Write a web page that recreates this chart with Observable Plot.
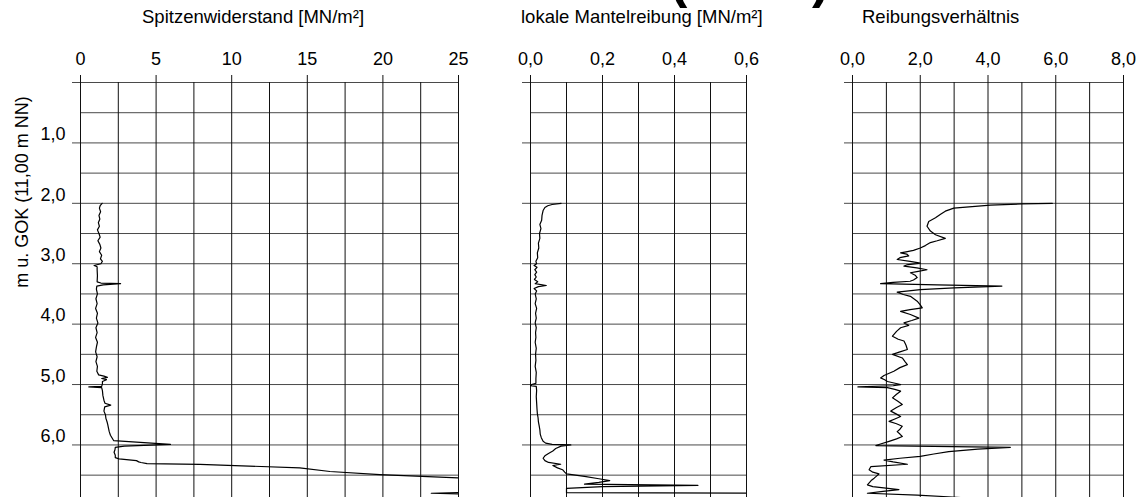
<!DOCTYPE html>
<html><head><meta charset="utf-8">
<script src="https://cdn.jsdelivr.net/npm/d3@7"></script>
<script src="https://cdn.jsdelivr.net/npm/@observablehq/plot@0.6"></script>
<style>
html,body{margin:0;padding:0;background:#fff;overflow:hidden}
#wrap{position:relative;width:1142px;height:497px;overflow:hidden;font-family:"Liberation Sans",Arial,sans-serif;color:#000}
.t{position:absolute;white-space:nowrap;line-height:1;font-size:18.5px}
.b{position:absolute;white-space:nowrap;line-height:1;font-size:52px;font-weight:bold}
.p{position:absolute;top:0}
</style></head><body>
<div id="wrap">
  <div class="b" style="left:670px;top:-47px">(</div>
  <div class="b" style="left:812px;top:-47px">)</div>
  <div class="t" style="left:142px;top:8.3px">Spitzenwiderstand [MN/m²]</div>
  <div class="t" style="left:521px;top:8.3px">lokale Mantelreibung [MN/m²]</div>
  <div class="t" style="left:862px;top:8.3px">Reibungsverhältnis</div>
  <div class="t" style="left:21.5px;top:191.5px;font-size:18px;transform:translate(-50%,-50%) rotate(-90deg)">m u. GOK (11,00 m NN)</div>
  <div class="p" id="p1" style="left:0px"></div>
  <div class="p" id="p2" style="left:490px"></div>
  <div class="p" id="p3" style="left:790px"></div>
</div>
<script>
// ---- shared depth axis ----
const depthMajor = [0, 1, 2, 3, 4, 5, 6];
const depthMinor = [0.5, 1.5, 2.5, 3.5, 4.5, 5.5, 6.5];
const depthTickValues = [1, 2, 3, 4, 5, 6];
const depthTickLabels = ["1,0", "2,0", "3,0", "4,0", "5,0", "6,0"];

// ---- panel 1: Spitzenwiderstand ----
const qcTicks = [0, 5, 10, 15, 20, 25];
const qcTickLabels = ["0", "5", "10", "15", "20", "25"];
const qcMinor = [2.5, 7.5, 12.5, 17.5, 22.5];
const qcDepth = [2.00,2.04,2.08,2.14,2.20,2.26,2.32,2.38,2.44,2.50,2.56,2.62,2.68,2.74,2.80,2.86,2.92,2.96,3.00,3.03,3.05,3.10,3.20,3.30,3.32,3.33,3.35,3.37,3.42,3.50,3.58,3.66,3.74,3.82,3.90,3.98,4.06,4.14,4.22,4.30,4.38,4.46,4.54,4.62,4.70,4.78,4.84,4.86,4.88,4.90,4.92,4.95,4.99,5.03,5.04,5.05,5.10,5.18,5.26,5.31,5.34,5.37,5.44,5.50,5.56,5.62,5.66,5.72,5.78,5.84,5.89,5.93,5.99,6.02,6.04,6.08,6.12,6.17,6.21,6.23,6.26,6.28,6.29,6.31,6.32,6.38,6.44,6.49,6.55,6.65,6.78,6.80,6.82,6.87];
const qcValue = [1.43,1.30,1.25,1.33,1.22,1.28,1.18,1.25,1.12,1.22,1.30,1.15,1.28,1.35,1.25,1.40,1.32,1.45,1.35,0.90,1.10,1.10,1.12,1.10,1.35,2.65,1.50,1.08,1.05,1.12,1.02,1.10,1.00,1.12,1.05,1.15,1.02,1.10,1.00,1.12,1.05,1.00,1.10,1.02,1.12,1.08,1.20,1.55,1.78,1.40,1.72,1.45,1.45,1.40,0.55,1.40,1.45,1.48,1.55,1.62,2.00,1.60,1.55,1.65,1.68,1.76,1.80,1.85,1.90,1.98,2.10,2.20,5.95,2.90,2.30,2.28,2.22,2.30,2.30,2.55,3.70,3.85,4.00,4.40,7.90,14.5,16.5,19.8,25.3,27.0,26.0,23.2,27.0,28.0];

// ---- panel 2: lokale Mantelreibung ----
const fsTicks = [0, 0.2, 0.4, 0.6];
const fsTickLabels = ["0,0", "0,2", "0,4", "0,6"];
const fsMinor = [0.1, 0.3, 0.5];
const fsDepth = [2.00,2.02,2.04,2.07,2.12,2.20,2.28,2.35,2.42,2.50,2.58,2.66,2.74,2.82,2.90,2.96,3.00,3.03,3.06,3.10,3.14,3.18,3.22,3.26,3.30,3.33,3.36,3.38,3.41,3.45,3.50,3.58,3.66,3.74,3.82,3.90,3.98,4.06,4.14,4.22,4.30,4.40,4.50,4.60,4.70,4.80,4.90,4.98,5.00,5.02,5.03,5.10,5.20,5.30,5.40,5.48,5.55,5.62,5.68,5.75,5.82,5.88,5.94,5.97,5.99,6.00,6.02,6.06,6.10,6.14,6.18,6.22,6.26,6.29,6.32,6.34,6.38,6.41,6.45,6.48,6.52,6.56,6.59,6.62,6.65,6.67,6.69,6.72,6.79,6.80,6.87];
const fsValue = [0.085,0.060,0.048,0.040,0.035,0.032,0.031,0.026,0.029,0.025,0.026,0.022,0.023,0.019,0.020,0.015,0.017,0.010,0.018,0.012,0.017,0.012,0.016,0.011,0.020,0.013,0.044,0.022,0.010,0.017,0.013,0.016,0.013,0.017,0.014,0.016,0.013,0.016,0.014,0.015,0.013,0.016,0.014,0.015,0.013,0.016,0.015,0.015,0.003,0.000,0.016,0.017,0.016,0.017,0.018,0.019,0.021,0.022,0.024,0.026,0.027,0.030,0.035,0.042,0.060,0.112,0.085,0.070,0.062,0.050,0.040,0.035,0.040,0.050,0.084,0.062,0.075,0.089,0.095,0.100,0.150,0.190,0.220,0.190,0.150,0.465,0.200,0.100,0.100,0.650,0.700];

// ---- panel 3: Reibungsverhältnis ----
const rfTicks = [0, 2, 4, 6, 8];
const rfTickLabels = ["0,0", "2,0", "4,0", "6,0", "8,0"];
const rfMinor = [1, 3, 5, 7];
const rfDepth = [2.00,2.01,2.03,2.08,2.13,2.18,2.24,2.30,2.38,2.46,2.52,2.58,2.62,2.65,2.70,2.74,2.78,2.80,2.82,2.84,2.87,2.90,2.93,2.96,2.99,3.02,3.04,3.07,3.10,3.13,3.15,3.19,3.23,3.27,3.29,3.31,3.33,3.35,3.37,3.40,3.43,3.47,3.51,3.54,3.62,3.68,3.73,3.76,3.79,3.84,3.90,3.94,3.98,4.02,4.06,4.12,4.20,4.25,4.28,4.35,4.42,4.46,4.50,4.56,4.62,4.67,4.72,4.78,4.85,4.89,4.92,4.95,5.00,5.02,5.04,5.05,5.08,5.11,5.16,5.22,5.28,5.33,5.38,5.44,5.49,5.53,5.57,5.61,5.65,5.69,5.74,5.78,5.82,5.86,5.90,5.94,5.98,6.01,6.04,6.07,6.11,6.15,6.19,6.22,6.25,6.28,6.32,6.36,6.41,6.45,6.48,6.52,6.55,6.59,6.66,6.69,6.74,6.77,6.80,6.83,6.87];
const rfValue = [5.90,5.00,4.07,2.99,2.74,2.60,2.45,2.25,2.20,2.30,2.45,2.74,2.50,2.30,2.15,2.00,1.80,1.62,1.42,1.60,1.66,1.40,1.32,1.70,2.00,1.60,1.52,1.90,2.20,1.90,1.71,1.85,1.91,1.80,1.70,1.20,0.83,2.50,4.41,3.00,2.00,1.32,1.50,1.71,1.91,2.00,2.06,1.70,1.42,1.71,1.96,1.75,1.52,1.66,1.42,1.30,1.18,1.35,1.52,1.58,1.62,1.40,1.18,1.47,1.55,1.62,1.40,1.22,0.93,0.83,0.95,1.03,1.42,1.20,0.16,1.03,1.25,1.42,1.30,1.18,1.35,1.47,1.30,1.13,1.30,1.42,1.25,1.08,1.30,1.47,1.40,1.32,1.40,1.47,1.30,1.08,0.85,0.69,4.66,3.70,2.84,2.40,2.00,1.40,0.93,1.20,1.62,0.54,0.49,0.60,0.78,0.70,0.64,0.55,0.44,0.60,1.37,0.90,0.44,1.91,3.20];

const depthDomain = [0, 6.87];

function panel(el, {width, ml, mr, domain, minor, major, majorLabels, depth, value, yLabels}) {
  const pts = depth.map((d, i) => ({d, v: value[i]}));
  const marks = [
    Plot.ruleY(depthMinor, {stroke: "#4a4a4a", strokeWidth: 1}),
    Plot.ruleY(depthMajor, {stroke: "#4a4a4a", strokeWidth: 1, insetLeft: -8}),
    Plot.ruleX(minor, {stroke: "#111", strokeWidth: 1}),
    Plot.ruleX(major, {stroke: "#111", strokeWidth: 1, insetTop: -7}),
    Plot.text(major.map((m, i) => ({m, s: majorLabels[i]})), {x: "m", text: "s", frameAnchor: "top", lineAnchor: "middle", dy: -23.5, fontSize: 18, fill: "#000"}),
    Plot.line(pts, {x: "v", y: "d", stroke: "#000", strokeWidth: 1.2, clip: true})
  ];
  if (yLabels) {
    marks.push(Plot.text(depthTickValues.map((v, i) => ({v, s: depthTickLabels[i]})), {y: "v", text: "s", frameAnchor: "left", textAnchor: "end", lineAnchor: "middle", dx: -15, dy: -8.5, fontSize: 18, fill: "#000"}));
  }
  const chart = Plot.plot({
    width, height: 497,
    marginLeft: ml, marginRight: mr, marginTop: 82, marginBottom: 0,
    x: {domain, axis: null},
    y: {domain: depthDomain, reverse: true, axis: null},
    style: {fontFamily: "'Liberation Sans', Arial, sans-serif", fontSize: "18px", background: "transparent", overflow: "visible"},
    marks
  });
  document.getElementById(el).appendChild(chart);
}

panel("p1", {width: 490, ml: 80, mr: 32, domain: [0, 25], minor: qcMinor, major: qcTicks, majorLabels: qcTickLabels, depth: qcDepth, value: qcValue, yLabels: true});
panel("p2", {width: 300, ml: 40, mr: 44, domain: [0, 0.6], minor: fsMinor, major: fsTicks, majorLabels: fsTickLabels, depth: fsDepth, value: fsValue});
panel("p3", {width: 352, ml: 62, mr: 19, domain: [0, 8], minor: rfMinor, major: rfTicks, majorLabels: rfTickLabels, depth: rfDepth, value: rfValue});
</script>
</body></html>
